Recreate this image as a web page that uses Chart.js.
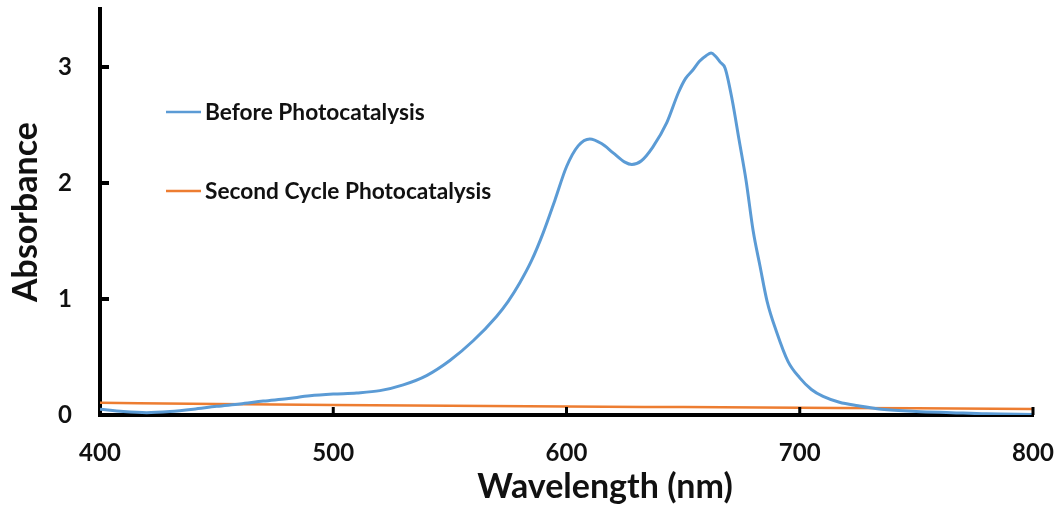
<!DOCTYPE html>
<html>
<head>
<meta charset="utf-8">
<script src="https://cdn.jsdelivr.net/npm/chart.js@4.4.0/dist/chart.umd.min.js"></script>
<style>
  html, body { margin: 0; padding: 0; background: #fff; }
  #wrap { width: 1059px; height: 506px; }
</style>
</head>
<body>
<div id="wrap"><canvas id="spectrum" width="1059" height="506"></canvas></div>
<script>
// Dados do espectro
const seriesNames = ['Before Photocatalysis', 'Second Cycle Photocatalysis'];

const wavelengthBefore = [400, 410, 420, 430, 440, 450, 460, 470, 480, 490, 500, 510, 520, 530, 540, 550, 560, 570, 575, 580, 585, 590, 595, 600, 605, 610, 615, 620, 625, 628, 632, 637, 643, 648, 651, 654, 657, 660, 662, 664, 666, 668, 671, 674, 677, 680, 683, 686, 690, 695, 700, 705, 710, 717, 725, 735, 750, 765, 780, 800];
const absBefore = [0.05, 0.03, 0.02, 0.03, 0.05, 0.075, 0.095, 0.12, 0.14, 0.165, 0.18, 0.19, 0.21, 0.26, 0.34, 0.47, 0.64, 0.85, 0.98, 1.14, 1.33, 1.57, 1.85, 2.14, 2.32, 2.38, 2.34, 2.26, 2.18, 2.16, 2.19, 2.31, 2.52, 2.78, 2.9, 2.97, 3.05, 3.1, 3.12, 3.09, 3.04, 2.99, 2.72, 2.37, 2.02, 1.59, 1.28, 0.98, 0.72, 0.46, 0.32, 0.22, 0.16, 0.11, 0.08, 0.05, 0.03, 0.02, 0.01, 0.005];

const wavelengthSecond = [400, 450, 500, 550, 600, 650, 700, 750, 800];
const absSecond = [0.105, 0.095, 0.086, 0.079, 0.073, 0.068, 0.063, 0.058, 0.052];

const xTicks = [400, 500, 600, 700, 800];
const yTicks = [0, 1, 2, 3];
const xTitle = 'Wavelength (nm)';
const yTitle = 'Absorbance';

const FONT = 'Lato, "Open Sans", sans-serif';

// ticks pra dentro + legenda dentro do grafico
const insideTicks = {
    id: 'insideTicks',
    afterDraw(chart) {
        const {ctx, chartArea, scales} = chart;
        ctx.save();
        ctx.strokeStyle = '#000';
        ctx.lineWidth = 3;
        xTicks.slice(1).forEach(v => {
            const px = scales.x.getPixelForValue(v);
            ctx.beginPath();
            ctx.moveTo(px, chartArea.bottom);
            ctx.lineTo(px, chartArea.bottom - 8);
            ctx.stroke();
        });
        ctx.lineWidth = 4;
        yTicks.slice(1).forEach(v => {
            const py = scales.y.getPixelForValue(v);
            ctx.beginPath();
            ctx.moveTo(chartArea.left, py);
            ctx.lineTo(chartArea.left + 9, py);
            ctx.stroke();
        });
        // titulo do eixo x (um pouco deslocado pra direita como no original)
        ctx.fillStyle = '#111';
        ctx.font = 'bold 34px ' + FONT;
        ctx.textAlign = 'center';
        ctx.textBaseline = 'middle';
        ctx.fillText(xTitle, 605, 487);
        ctx.restore();
    }
};

const innerLegend = {
    id: 'innerLegend',
    afterDraw(chart) {
        const {ctx} = chart;
        const rows = [112, 191];
        ctx.save();
        ctx.font = 'bold 22.7px ' + FONT;
        ctx.textBaseline = 'middle';
        ctx.textAlign = 'left';
        chart.data.datasets.forEach((ds, i) => {
            ctx.strokeStyle = ds.borderColor;
            ctx.lineWidth = 2.5;
            ctx.beginPath();
            ctx.moveTo(166, rows[i]);
            ctx.lineTo(201, rows[i]);
            ctx.stroke();
            ctx.fillStyle = '#111';
            ctx.fillText(ds.label, 205, rows[i] + 1);
        });
        ctx.restore();
    }
};

function noPad(scale) {
    scale.paddingTop = 0;
    scale.paddingBottom = 0;
    scale.paddingLeft = 0;
    scale.paddingRight = 0;
}

new Chart(document.getElementById('spectrum'), {
    type: 'line',
    data: {
        datasets: [{
            label: seriesNames[0],
            data: wavelengthBefore.map((w, i) => ({x: w, y: absBefore[i]})),
            borderColor: '#5B9BD5',
            borderWidth: 3,
            pointRadius: 0,
            cubicInterpolationMode: 'monotone'
        }, {
            label: seriesNames[1],
            data: wavelengthSecond.map((w, i) => ({x: w, y: absSecond[i]})),
            borderColor: '#ED7D31',
            borderWidth: 2.5,
            pointRadius: 0,
            cubicInterpolationMode: 'monotone'
        }]
    },
    options: {
        responsive: false,
        animation: false,
        events: [],
        layout: { padding: { top: 9, right: 26, left: 0, bottom: 0 } },
        plugins: {
            legend: { display: false },
            tooltip: { enabled: false }
        },
        scales: {
            x: {
                type: 'linear',
                min: 400,
                max: 800,
                afterFit(scale) { scale.height = 91; noPad(scale); },
                afterBuildTicks(scale) { scale.ticks = xTicks.map(v => ({value: v})); },
                grid: { display: false, drawTicks: false },
                border: { display: true, color: '#000', width: 4 },
                ticks: {
                    padding: 24,
                    color: '#111',
                    font: { family: FONT, size: 24, weight: 'bold' }
                },
                title: { display: false }
            },
            y: {
                min: 0,
                max: 3.5,
                afterFit(scale) { scale.width = 100; noPad(scale); },
                afterBuildTicks(scale) { scale.ticks = yTicks.map(v => ({value: v})); },
                grid: { display: false, drawTicks: false },
                border: { display: true, color: '#000', width: 4 },
                ticks: {
                    padding: 28,
                    color: '#111',
                    font: { family: FONT, size: 24, weight: 'bold' }
                },
                title: {
                    display: true,
                    text: yTitle,
                    color: '#111',
                    padding: { top: 6, bottom: 0 },
                    font: { family: FONT, size: 34, weight: 'bold' }
                }
            }
        }
    },
    plugins: [insideTicks, innerLegend]
});
</script>
</body>
</html>
